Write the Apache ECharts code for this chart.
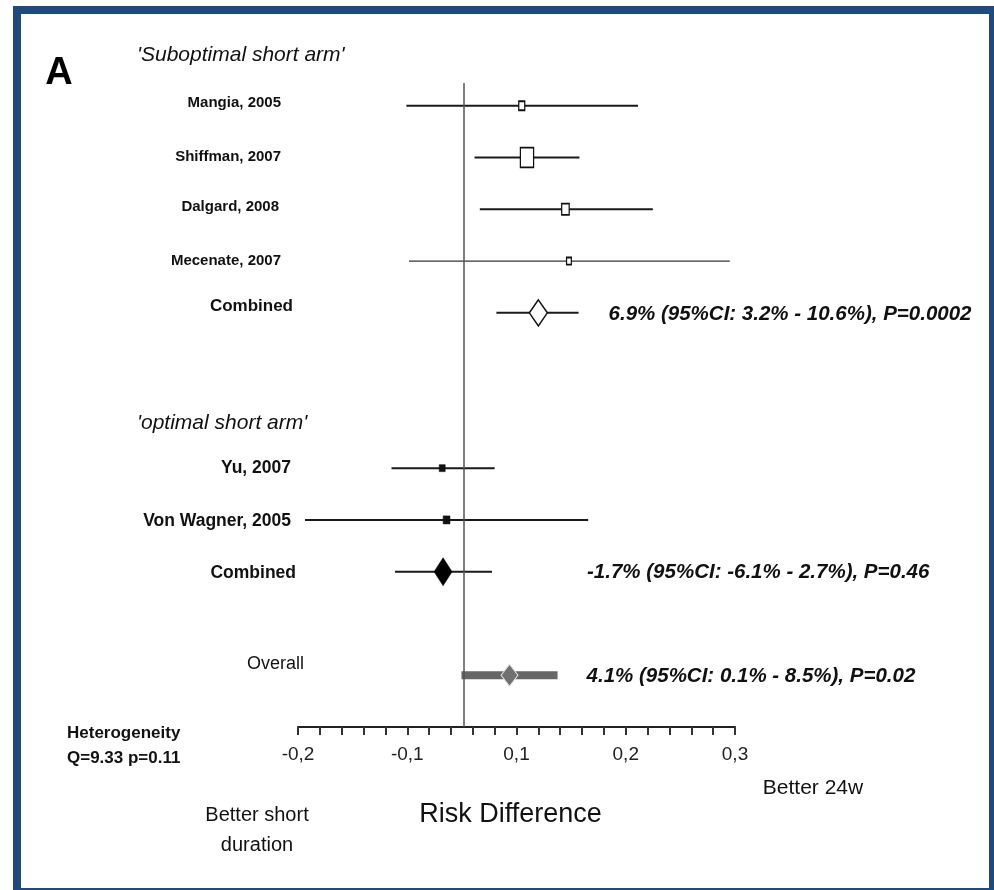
<!DOCTYPE html>
<html>
<head>
<meta charset="utf-8">
<script src="https://cdn.jsdelivr.net/npm/echarts@6/dist/echarts.min.js"></script>
<style>html,body{margin:0;padding:0;background:#fff}#chart{width:994px;height:890px}</style>
</head>
<body>
<div id="chart"></div>
<script>
// ---- data ----
const rowNames   = ['Mangia, 2005', 'Shiffman, 2007', 'Dalgard, 2008', 'Mecenate, 2007', 'Combined',
                    'Yu, 2007', 'Von Wagner, 2005', 'Combined', 'Overall'];
const rowIndex   = [0, 1, 2, 3, 4, 7, 8, 9, 11];
const rowKind    = ['open', 'open', 'open', 'open', 'combinedOpen',
                    'filled', 'filled', 'combinedFilled', 'overall'];
const estimate   = [0.056, 0.062, 0.106, 0.110, 0.075, -0.035, -0.030, -0.034, 0.042];
const ciLow      = [-0.076, 0.002, 0.008, -0.073, 0.027, -0.093, -0.192, -0.089, -0.013];
const ciHigh     = [0.189, 0.122, 0.206, 0.294, 0.121, 0.025, 0.132, 0.022, 0.097];
const studyWeight = [1.0, 2.2, 1.25, 0.8, null, 1.0, 1.15, null, null];
const refValue   = -0.013;
const xMin = -0.2, xMax = 0.3, xStep = 0.025;
const tickLabels = ['-0,2', '-0,1', '0,1', '0,2', '0,3'];
const summaryRows = [4, 7, 8];
const summaryText = ['6.9% (95%CI: 3.2% - 10.6%), P=0.0002',
                     '-1.7% (95%CI: -6.1% - 2.7%), P=0.46',
                     '4.1% (95%CI: 0.1% - 8.5%), P=0.02'];
const groupHeaders = ["'Suboptimal short arm'", "'optimal short arm'"];
const heterogeneity = ['Heterogeneity', 'Q=9.33 p=0.11'];

// ---- styling ----
const FONT = "'Liberation Sans', Arial, Helvetica, sans-serif";
const nameStyle = [
  {size: 15, bold: true, dx: -17, dy: -3},
  {size: 15, bold: true, dx: -17, dy: -1},
  {size: 15, bold: true, dx: -19, dy: -2},
  {size: 15, bold: true, dx: -17, dy: 0},
  {size: 17, bold: true, dx: -5,  dy: -7},
  {size: 17.5, bold: true, dx: -7,  dy: 0},
  {size: 17.5, bold: true, dx: -7,  dy: 1},
  {size: 17.5, bold: true, dx: -2,  dy: 1},
  {size: 18, bold: false, dx: 6,  dy: -11}
];
const summaryOffset = [30, 95, 29];

const chart = echarts.init(document.getElementById('chart'), null, {renderer: 'canvas'});

const ciData = rowNames.map((n, i) => [ciLow[i], ciHigh[i], rowIndex[i]]);

function markerItem(i) {
  const k = rowKind[i];
  let symbol = 'rect', size, fill, stroke, lw = 1.5;
  if (k === 'open') { size = [6 * studyWeight[i], 9 * studyWeight[i]]; fill = '#fff'; stroke = '#111'; }
  else if (k === 'filled') { size = [6 * studyWeight[i], 7 * studyWeight[i]]; fill = '#111'; stroke = '#111'; lw = 0.5; }
  else if (k === 'combinedOpen') { symbol = 'diamond'; size = [18, 26]; fill = '#fff'; stroke = '#111'; }
  else if (k === 'combinedFilled') { symbol = 'diamond'; size = [18, 28]; fill = '#000'; stroke = '#000'; lw = 0.5; }
  else { symbol = 'diamond'; size = [17, 22]; fill = '#707070'; stroke = '#e0e0e0'; lw = 1; }
  return {value: [estimate[i], rowIndex[i]], symbol: symbol, symbolSize: size,
          itemStyle: {color: fill, borderColor: stroke, borderWidth: lw, opacity: 1}};
}

const option = {
  animation: false,
  backgroundColor: '#ffffff',
  textStyle: {fontFamily: FONT},
  grid: {left: 298, right: 259, top: 83, bottom: 163, containLabel: false},
  xAxis: {
    type: 'value', min: xMin, max: xMax, interval: xStep,
    axisLine: {show: true, onZero: false, lineStyle: {color: '#222', width: 2}},
    axisTick: {show: true, length: 8, lineStyle: {color: '#333', width: 2}},
    splitLine: {show: false},
    axisLabel: {
      show: true, margin: 18, color: '#222', fontSize: 19, fontFamily: FONT,
      showMinLabel: true, showMaxLabel: true,
      formatter: function (v) {
        const idx = Math.round((v - xMin) / xStep);
        return idx % 5 === 0 ? (tickLabels[idx / 5] || '') : '';
      }
    },
    name: 'Risk Difference', nameLocation: 'middle', nameGap: 74,
    nameTextStyle: {fontSize: 27, color: '#111', fontFamily: FONT, padding: [0, 12, 0, 0]}
  },
  yAxis: {type: 'value', inverse: true, min: -0.44, max: 12, show: false},
  series: [
    {
      type: 'custom', name: 'ci', z: 2, clip: false,
      data: ciData,
      encode: {x: [0, 1], y: 2},
      renderItem: function (params, api) {
        const a = api.coord([api.value(0), api.value(2)]);
        const b = api.coord([api.value(1), api.value(2)]);
        const k = rowKind[params.dataIndex];
        let stroke = '#1a1a1a', lw = 2;
        if (k === 'overall') { stroke = '#666'; lw = 8; }
        if (params.dataIndex === 3) { lw = 1.3; stroke = '#333'; }
        return {type: 'line', shape: {x1: a[0], y1: a[1], x2: b[0], y2: b[1]},
                style: {stroke: stroke, lineWidth: lw, lineCap: 'butt'}};
      }
    },
    {
      type: 'scatter', name: 'markers', z: 4, itemStyle: {opacity: 1},
      data: rowNames.map((n, i) => markerItem(i))
    },
    {
      type: 'scatter', name: 'labels', z: 5, symbolSize: 0, silent: true, itemStyle: {opacity: 1},
      data: rowNames.map((n, i) => ({
        value: [xMin, rowIndex[i]],
        label: {
          show: true, position: 'left', distance: 0, align: 'right', verticalAlign: 'middle',
          offset: [nameStyle[i].dx, nameStyle[i].dy],
          formatter: n, color: '#111', fontFamily: FONT,
          fontSize: nameStyle[i].size, fontWeight: nameStyle[i].bold ? 'bold' : 'normal'
        }
      })),
      markLine: {
        silent: true, symbol: ['none', 'none'], label: {show: false},
        lineStyle: {color: '#555', width: 1.5, type: 'solid', opacity: 1},
        data: [{xAxis: refValue}]
      }
    },
    {
      type: 'scatter', name: 'summaries', z: 5, symbolSize: 0, silent: true, itemStyle: {opacity: 1},
      data: summaryRows.map((r, j) => ({
        value: [ciHigh[r], rowIndex[r]],
        label: {
          show: true, position: 'right', distance: 0, align: 'left', verticalAlign: 'middle',
          offset: [summaryOffset[j], 1],
          formatter: summaryText[j], color: '#111', fontFamily: FONT,
          fontSize: 20.5, fontWeight: 'bold', fontStyle: 'italic'
        }
      }))
    }
  ],
  graphic: [
    {type: 'rect', shape: {x: 17, y: 10, width: 976, height: 882}, silent: true, z: 100,
     style: {fill: 'none', stroke: '#1f4a7c', lineWidth: 8}},
    {type: 'text', x: 59, y: 74, silent: true,
     style: {text: 'A', font: 'bold 38px ' + FONT, fill: '#000', align: 'center', verticalAlign: 'middle'}},
    {type: 'text', x: 137, y: 55, silent: true,
     style: {text: groupHeaders[0], font: 'italic 21px ' + FONT, fill: '#111', align: 'left', verticalAlign: 'middle'}},
    {type: 'text', x: 137, y: 423, silent: true,
     style: {text: groupHeaders[1], font: 'italic 21px ' + FONT, fill: '#111', align: 'left', verticalAlign: 'middle'}},
    {type: 'text', x: 67, y: 733, silent: true,
     style: {text: heterogeneity[0], font: 'bold 17px ' + FONT, fill: '#111', align: 'left', verticalAlign: 'middle'}},
    {type: 'text', x: 67, y: 758, silent: true,
     style: {text: heterogeneity[1], font: 'bold 17px ' + FONT, fill: '#111', align: 'left', verticalAlign: 'middle'}},
    {type: 'text', x: 257, y: 815, silent: true,
     style: {text: 'Better short', font: '20px ' + FONT, fill: '#111', align: 'center', verticalAlign: 'middle'}},
    {type: 'text', x: 257, y: 845, silent: true,
     style: {text: 'duration', font: '20px ' + FONT, fill: '#111', align: 'center', verticalAlign: 'middle'}},
    {type: 'text', x: 813, y: 788, silent: true,
     style: {text: 'Better 24w', font: '21px ' + FONT, fill: '#111', align: 'center', verticalAlign: 'middle'}}
  ]
};
chart.setOption(option);
</script>
</body>
</html>
